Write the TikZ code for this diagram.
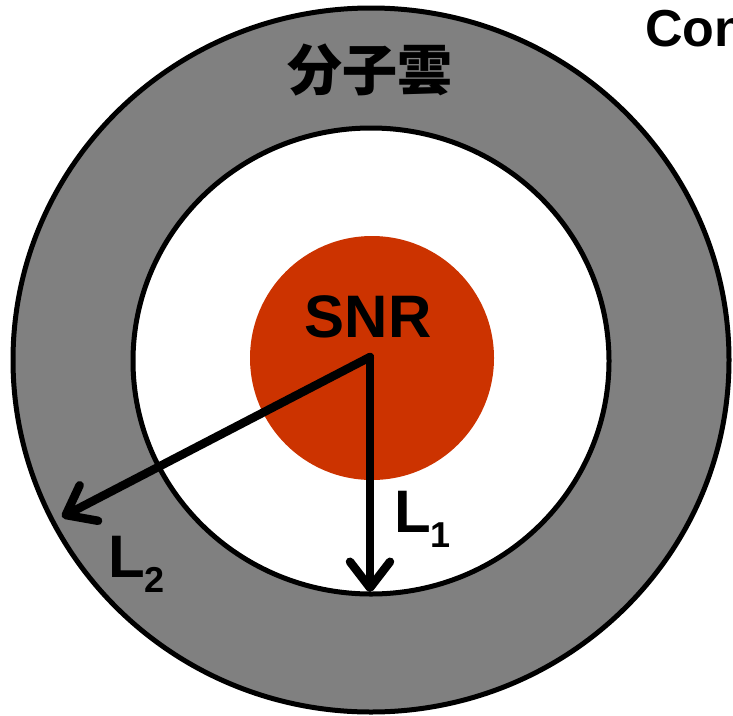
\documentclass[tikz,border=0pt]{standalone}
\usepackage{fontspec}
\setmainfont{Liberation Sans}
\newfontfamily\cjk{Noto Sans CJK JP}
\usepackage{xcolor}
\usetikzlibrary{arrows.meta}

\definecolor{cloudgray}{RGB}{128,128,128}
\definecolor{snrred}{RGB}{204,51,0}

\tikzset{
  ring/.style={line width=5pt, draw=black},
  radius arrow/.style={line width=8.5pt, line cap=round,
    -{Straight Barb[length=26pt,width=40pt,line cap=round,line join=round]}},
  big label/.style={font=\fontsize{60}{62}\selectfont\bfseries, inner sep=0pt},
}
\newcommand{\sublabel}[2]{#1\raisebox{-15pt}{\fontsize{36}{36}\selectfont #2}}

\begin{document}
\begin{tikzpicture}[x=1pt, y=-1pt]
  \useasboundingbox (0,0) rectangle (733,715);

  %% Molecular cloud shell and the cavity inside it
  \fill[cloudgray] (371,360) ellipse [x radius=358, y radius=352];
  \draw[ring] (371,360) ellipse [x radius=358, y radius=352];
  \fill[white] (371,361) ellipse [x radius=238, y radius=233];
  \draw[ring] (371,361) ellipse [x radius=238, y radius=233];

  %% Supernova remnant
  \fill[snrred] (372,358) circle (122);

  %% Labels
  \node[big label, anchor=base] (snr) at (368,337) {SNR};
  \node[font=\cjk\fontsize{55}{57}\selectfont\bfseries, inner sep=0pt] (cloud) at (370,70) {分子雲};
  \node[font=\fontsize{52}{54}\selectfont\bfseries, inner sep=0pt, anchor=base west] (con) at (645,46) {Con};

  %% Radii from the centre
  \coordinate (centre) at (370,357);
  \coordinate (edge1) at (370,592);
  \coordinate (edge2) at (62,517);
  \draw[radius arrow] (centre) -- (edge1);
  \draw[radius arrow] (centre) -- (edge2);

  \node[big label, anchor=base west] (lone) at (394,532) {\sublabel{L}{1}};
  \node[big label, anchor=base west] (ltwo) at (108,577) {\sublabel{L}{2}};
\end{tikzpicture}
\end{document}
